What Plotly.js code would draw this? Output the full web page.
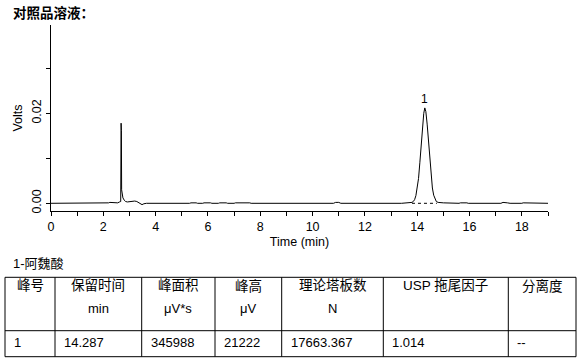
<!DOCTYPE html>
<html>
<head>
<meta charset="utf-8">
<script src="https://cdn.plot.ly/plotly-3.0.1.min.js"></script>
<style>html,body{margin:0;padding:0;background:#fff;}#chart{width:581px;height:361px;}</style>
</head>
<body>
<div id="chart"></div>
<script>
// ---- data ----
const chartTitle = '对照品溶液：';
const compoundLabel = '1-阿魏酸';
const timeMin = [0.00, 1.75, 1.80, 1.95, 2.00, 2.05, 2.20, 2.25, 2.50, 2.55, 2.62, 2.665, 2.68, 2.69, 2.70, 2.72, 2.75, 2.80, 2.85, 2.92, 3.00, 3.10, 3.20, 3.28, 3.35, 3.42, 3.48, 3.55, 3.65,
  5.30, 5.35, 5.55, 5.60, 5.80, 5.85, 6.10, 6.15, 6.40, 6.45, 6.70, 6.75, 7.00, 7.05, 7.60, 7.65, 10.80, 10.88, 11.00, 11.08, 13.40, 13.60, 13.70, 13.80, 13.85,
  13.90, 13.95, 14.00, 14.05, 14.10, 14.15, 14.20, 14.25, 14.29, 14.33, 14.38, 14.43, 14.48, 14.53, 14.58, 14.63, 14.68, 14.73, 14.80, 14.90, 15.00, 15.60,
  15.65, 15.90, 15.95, 17.20, 17.28, 17.45, 17.55, 18.00, 18.05, 19.00];
const volts = [0.0000, 0.0000, 0.0001, 0.0001, 0.0000, 0.0001, 0.0001, 0.0002, 0.0002, 0.0001, 0.0003, 0.0004, 0.0178, 0.0162, 0.0030, 0.0016, 0.0012, 0.0007, 0.0004, 0.0003, 0.0004, 0.0005, 0.0005, 0.0004, 0.0001, -0.0002, -0.0003, -0.0001, 0.0000,
  0.0000, 0.0001, 0.0001, 0.0000, 0.0000, 0.0001, 0.0001, 0.0000, 0.0000, 0.0001, 0.0001, 0.0000, 0.0000, 0.0001, 0.0001, 0.0000, 0.0000, 0.0002, 0.0002, 0.0000, 0.0000, 0.0001, 0.0001, 0.0002, 0.0004,
  0.0008, 0.0017, 0.0032, 0.0055, 0.0090, 0.0130, 0.0170, 0.0200, 0.0212, 0.0204, 0.0176, 0.0136, 0.0094, 0.0058, 0.0034, 0.0018, 0.0009, 0.0004, 0.0002, 0.0001, 0.0001, 0.0000,
  0.0001, 0.0001, 0.0000, 0.0000, 0.0002, 0.0001, 0.0000, 0.0000, 0.0001, 0.0000];
const baselineTime = [13.80, 14.75];
const baselineVolts = [0, 0];
const peakLabels = ['1'];
const peakTimes = [14.287];
const peakHeights = [0.0212];
const headerLine1 = ['峰号', '保留时间', '峰面积', '峰高', '理论塔板数', 'USP 拖尾因子', '分离度'];
const headerLine2 = ['', 'min', 'μV*s', 'μV', 'N', '', ''];
const rowValues = ['1', '14.287', '345988', '21222', '17663.367', '1.014', '--'];

// ---- layout geometry (pixels) ----
const W = 581, H = 361;
const PL = 51, PR = 548, PT = 25, PB = 211;
const colEdges = [5, 55, 141.7, 215, 281.7, 383.3, 508.3, 576];
const rowTop = 277.3, rowMid = 330.7, rowBot = 356.7;
const px = x => (x - PL) / (PR - PL);
const py = y => (PB - y) / (PB - PT);

const FONT = 'Liberation Sans, Arial, Noto Sans CJK SC, sans-serif';

const shapes = [];
const annotations = [];
function hline(y, x0, x1) {
  shapes.push({type: 'line', xref: 'paper', yref: 'paper', x0: px(x0), x1: px(x1), y0: py(y), y1: py(y), line: {color: '#000', width: 1}});
}
function vline(x, y0, y1) {
  shapes.push({type: 'line', xref: 'paper', yref: 'paper', x0: px(x), x1: px(x), y0: py(y0), y1: py(y1), line: {color: '#000', width: 1}});
}
hline(rowTop, colEdges[0], colEdges[colEdges.length - 1]);
hline(rowMid, colEdges[0], colEdges[colEdges.length - 1]);
hline(rowBot, colEdges[0], colEdges[colEdges.length - 1]);
colEdges.forEach(x => vline(x, rowTop, rowBot));

for (let i = 0; i < headerLine1.length; i++) {
  const cx = (colEdges[i] + colEdges[i + 1]) / 2;
  annotations.push({xref: 'paper', yref: 'paper', x: px(cx), y: py(285.5), xanchor: 'center', yanchor: 'middle', showarrow: false, text: headerLine1[i], font: {family: FONT, size: 13.5, color: '#000'}});
  if (headerLine2[i]) annotations.push({xref: 'paper', yref: 'paper', x: px(cx), y: py(308), xanchor: 'center', yanchor: 'middle', showarrow: false, text: headerLine2[i], font: {family: FONT, size: 13, color: '#000'}});
  annotations.push({xref: 'paper', yref: 'paper', x: px(colEdges[i] + 7), y: py(342), xanchor: 'left', yanchor: 'middle', showarrow: false, text: rowValues[i], font: {family: FONT, size: 13, color: '#000'}});
}
annotations.push({xref: 'paper', yref: 'paper', x: px(11), y: py(263.5), xanchor: 'left', yanchor: 'middle', showarrow: false, text: compoundLabel, font: {family: FONT, size: 13, color: '#000'}});
annotations.push({xref: 'paper', yref: 'paper', x: px(11), y: py(11.5), xanchor: 'left', yanchor: 'middle', showarrow: false, text: '<b>' + chartTitle + '</b>', font: {family: 'Noto Sans CJK SC, sans-serif', size: 13.5, color: '#000'}});
for (let i = 0; i < peakLabels.length; i++) {
  annotations.push({xref: 'x', yref: 'y', x: peakTimes[i], y: peakHeights[i], xanchor: 'center', yanchor: 'bottom', showarrow: false, text: peakLabels[i], font: {family: FONT, size: 12, color: '#000'}});
}

const traces = [
  {type: 'scatter', mode: 'lines', x: timeMin, y: volts, line: {color: '#000', width: 1}, hoverinfo: 'skip', showlegend: false},
  {type: 'scatter', mode: 'lines', x: baselineTime, y: baselineVolts, line: {color: '#000', width: 1, dash: '3px,3px'}, hoverinfo: 'skip', showlegend: false}
];

const layout = {
  width: W, height: H,
  margin: {l: PL, r: W - PR, t: PT, b: H - PB, pad: 0},
  paper_bgcolor: '#fff', plot_bgcolor: '#fff',
  font: {family: FONT, size: 12, color: '#000'},
  showlegend: false,
  xaxis: {
    range: [0, 19], dtick: 2, tick0: 0, showgrid: false, zeroline: false,
    showline: true, linecolor: '#000', linewidth: 1,
    ticks: 'outside', ticklen: 4, tickcolor: '#000', tickwidth: 1,
    minor: {dtick: 1, tick0: 0, ticks: 'outside', ticklen: 4, tickcolor: '#000', tickwidth: 1, showgrid: false},
    tickfont: {family: FONT, size: 12.5, color: '#000'},
    title: {text: 'Time (min)', font: {family: FONT, size: 12.5, color: '#000'}, standoff: 4},
    automargin: false
  },
  yaxis: {
    range: [-0.00171, 0.03962], dtick: 0.02, tick0: 0, tickformat: '.2f', showgrid: false, zeroline: false,
    showline: true, linecolor: '#000', linewidth: 1,
    ticks: 'outside', ticklen: 4, tickcolor: '#000', tickwidth: 1, tickangle: -90,
    minor: {dtick: 0.01, tick0: 0, ticks: 'outside', ticklen: 4, tickcolor: '#000', tickwidth: 1, showgrid: false},
    tickfont: {family: FONT, size: 12.5, color: '#000'},
    title: {text: 'Volts', font: {family: FONT, size: 12.5, color: '#000'}, standoff: 4},
    automargin: false
  },
  shapes: shapes,
  annotations: annotations
};

Plotly.newPlot('chart', traces, layout, {displayModeBar: false, staticPlot: true});
</script>
</body>
</html>
